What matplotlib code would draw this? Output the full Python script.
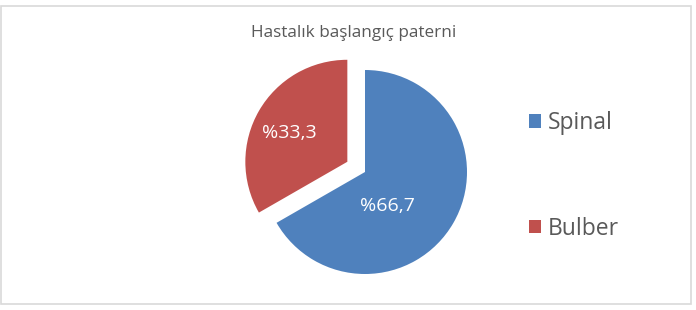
import matplotlib
matplotlib.use("Agg")
import matplotlib.pyplot as plt
from matplotlib.patches import Rectangle

title = "Hastalık başlangıç paterni"
categories = ["Spinal", "Bulber"]
values = [66.7, 33.3]
colors = ["#4F81BD", "#C0504D"]

plt.rcParams['font.family'] = ['Open Sans', 'DejaVu Sans']

W, H = 696, 310
R = 102.0           # pie radius in px
CX, CY = 365, 138   # pie centre in px (y up)

fig = plt.figure(figsize=(W / 100, H / 100), dpi=100)
fig.patch.set_facecolor("white")
ax = fig.add_axes([0, 0, 1, 1])

wedges, texts, autotexts = ax.pie(
    values, colors=colors, startangle=90, counterclock=False,
    explode=[0, 0.2], radius=1,
    autopct=lambda p: "%" + f"{p:.1f}".replace(".", ","),
    pctdistance=0.58, textprops=dict(color="white", fontsize=14),
    wedgeprops=dict(linewidth=0))
# Excel-like label placement
autotexts[0].set_position((0.22, -0.33))
autotexts[1].set_position((-0.74, 0.38))
ax.set_xlim(-CX / R, (W - CX) / R)
ax.set_ylim(-CY / R, (H - CY) / R)
ax.set_aspect("equal")
ax.axis("off")

# chart border
fig.add_artist(Rectangle((1 / W, 6 / H), 690 / W, 298 / H, transform=fig.transFigure,
                         fill=False, edgecolor="#D9D9D9", linewidth=1.2))

fig.text(354 / W, 1 - 33 / H, title, ha="center", va="center", fontsize=12.3, color="#595959")

leg = ax.legend(wedges, categories, loc="center left", bbox_to_anchor=(508 / W, 134 / H),
                bbox_transform=fig.transFigure,
                frameon=False, fontsize=16.5, labelcolor="#595959",
                handlelength=0.55, handleheight=0.55, handletextpad=0.3,
                labelspacing=3.55)

fig.savefig("out.png", dpi=100, facecolor="white")
